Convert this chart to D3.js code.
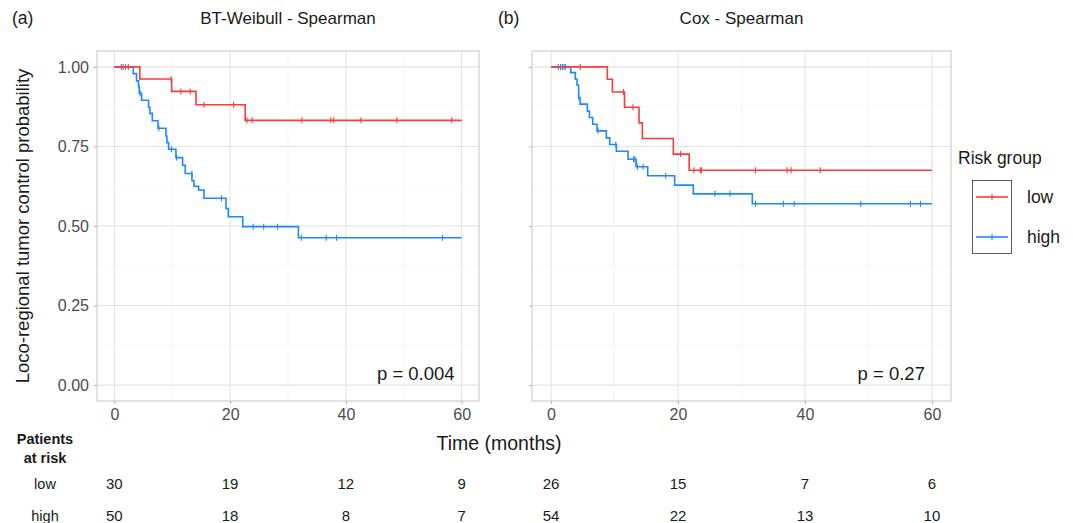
<!DOCTYPE html>
<html>
<head>
<meta charset="utf-8">
<script src="https://cdn.jsdelivr.net/npm/d3@7"></script>
<style>
  body { margin: 0; background: #fff; }
  svg { display: block; font-family: "Liberation Sans", Arial, sans-serif; }
</style>
</head>
<body>
<svg id="chart" width="1073" height="523"></svg>
<script>
// ---------------- DATA ----------------
const panelLabels = ["(a)", "(b)"];
const panelTitles = ["BT-Weibull - Spearman", "Cox - Spearman"];
const pValues = ["p = 0.004", "p = 0.27"];
const groups = ["low", "high"];
const xTicks = [0, 20, 40, 60];
const yTicks = [0, 0.25, 0.5, 0.75, 1];
const yTickLabels = ["0.00", "0.25", "0.50", "0.75", "1.00"];
const riskTimes = [0, 20, 40, 60];

// Panel (a): BT-Weibull - Spearman
const aLowTimes = [4.4, 9.9, 14.1, 22.6];
const aLowSurv = [0.962, 0.923, 0.881, 0.832];
const aLowCensor = [1.5, 2.4, 9.8, 11.5, 13.1, 15.5, 20.6, 22.9, 23.8, 32.4, 37.4, 37.9, 42.6, 48.8, 58.3];
const aHighTimes = [3.26, 3.83, 4.18, 4.30, 4.70, 5.91, 6.14, 6.55, 7.53, 8.91, 9.08, 9.37, 10.64, 11.79, 12.25, 13.41, 13.75, 14.56, 15.48, 19.29, 19.69, 22.18, 31.8];
const aHighSurv = [0.979, 0.956, 0.938, 0.917, 0.895, 0.873, 0.854, 0.831, 0.807, 0.783, 0.762, 0.741, 0.715, 0.691, 0.665, 0.642, 0.625, 0.613, 0.587, 0.555, 0.529, 0.498, 0.463];
const aHighCensor = [1.2, 1.9, 4.45, 7.7, 9.85, 10.75, 13.4, 18.5, 24.0, 25.8, 28.2, 32.3, 36.6, 38.4, 56.7];
const aRiskLow = [30, 19, 12, 9];
const aRiskHigh = [50, 18, 8, 7];

// Panel (b): Cox - Spearman
const bLowTimes = [8.87, 9.66, 11.57, 13.86, 14.38, 19.26, 21.76];
const bLowSurv = [0.961, 0.921, 0.873, 0.824, 0.775, 0.726, 0.675];
const bLowCensor = [4.6, 11.4, 12.9, 20.4, 22.5, 23.5, 23.7, 32.2, 37.2, 37.8, 42.4];
const bHighTimes = [3.10, 3.83, 4.09, 4.35, 4.57, 5.72, 6.04, 6.56, 7.24, 8.71, 9.24, 10.29, 12.13, 13.39, 15.22, 19.47, 22.41, 31.7];
const bHighSurv = [0.982, 0.961, 0.943, 0.903, 0.883, 0.861, 0.841, 0.820, 0.799, 0.777, 0.756, 0.735, 0.710, 0.686, 0.658, 0.6285, 0.601, 0.570];
const bHighCensor = [1.15, 1.5, 1.8, 2.05, 2.3, 4.4, 7.4, 10.2, 13.0, 13.2, 13.6, 14.5, 18.05, 25.8, 28.2, 32.2, 36.6, 38.3, 48.8, 56.6, 58.2];
const bRiskLow = [26, 15, 7, 6];
const bRiskHigh = [54, 22, 13, 10];

const colors = { low: "#FF3A3A", high: "#1E88FF" };

// ---------------- LAYOUT ----------------
const svg = d3.select("#chart");
const plotTop = 51, plotBottom = 401;
const panels = [
  { x0: 97, x1: 479, label: panelLabels[0], title: panelTitles[0], p: pValues[0],
    curves: { low: [aLowTimes, aLowSurv, aLowCensor], high: [aHighTimes, aHighSurv, aHighCensor] },
    risk: { low: aRiskLow, high: aRiskHigh }, yLabels: true, labelX: 12 },
  { x0: 532, x1: 951, label: panelLabels[1], title: panelTitles[1], p: pValues[1],
    curves: { low: [bLowTimes, bLowSurv, bLowCensor], high: [bHighTimes, bHighSurv, bHighCensor] },
    risk: { low: bRiskLow, high: bRiskHigh }, yLabels: false, labelX: 498 }
];

const y = d3.scaleLinear().domain([-0.05, 1.05]).range([plotBottom, plotTop]);
const textCol = "#1a1a1a";
const tickCol = "#4d4d4d";

function survAt(times, surv, t) {
  let s = 1;
  for (let i = 0; i < times.length; i++) if (times[i] <= t) s = surv[i];
  return s;
}

panels.forEach(P => {
  const x = d3.scaleLinear().domain([-3, 63]).range([P.x0, P.x1]);
  const g = svg.append("g");

  // grid minor
  [10, 30, 50].forEach(v => g.append("line").attr("x1", x(v)).attr("x2", x(v))
    .attr("y1", plotTop).attr("y2", plotBottom).attr("stroke", "#f2f2f2").attr("stroke-width", 0.6));
  [0.125, 0.375, 0.625, 0.875].forEach(v => g.append("line").attr("x1", P.x0).attr("x2", P.x1)
    .attr("y1", y(v)).attr("y2", y(v)).attr("stroke", "#f2f2f2").attr("stroke-width", 0.6));
  // grid major
  xTicks.forEach(v => g.append("line").attr("x1", x(v)).attr("x2", x(v))
    .attr("y1", plotTop).attr("y2", plotBottom).attr("stroke", "#e4e4e4").attr("stroke-width", 1.1));
  yTicks.forEach(v => g.append("line").attr("x1", P.x0).attr("x2", P.x1)
    .attr("y1", y(v)).attr("y2", y(v)).attr("stroke", "#e4e4e4").attr("stroke-width", 1.1));

  // axes
  const xAxis = d3.axisBottom(x).tickValues(xTicks).tickSize(3).tickPadding(5).tickFormat(d3.format("d"));
  const gx = svg.append("g").attr("transform", `translate(0,${plotBottom})`).call(xAxis);
  gx.select(".domain").remove();
  gx.selectAll("line").attr("stroke", "#b3b3b3");
  gx.selectAll("text").attr("font-size", 16).attr("fill", tickCol).attr("font-family", "Liberation Sans, Arial, sans-serif");

  const yAxis = d3.axisLeft(y).tickValues(yTicks).tickSize(3).tickPadding(5)
    .tickFormat((d, i) => P.yLabels ? yTickLabels[i] : "");
  const gy = svg.append("g").attr("transform", `translate(${P.x0},0)`).call(yAxis);
  gy.select(".domain").remove();
  gy.selectAll("line").attr("stroke", "#b3b3b3");
  gy.selectAll("text").attr("font-size", 16).attr("fill", tickCol).attr("font-family", "Liberation Sans, Arial, sans-serif");

  // curves
  groups.slice().reverse().forEach(grp => {
    const [times, surv, cens] = P.curves[grp];
    const pts = [[0, 1]];
    times.forEach((t, i) => pts.push([t, surv[i]]));
    pts.push([60, surv[surv.length - 1]]);
    const line = d3.line().x(d => x(d[0])).y(d => y(d[1])).curve(d3.curveStepAfter);
    g.append("path").attr("d", line(pts)).attr("fill", "none")
      .attr("stroke", colors[grp]).attr("stroke-width", 1.6);
    cens.forEach(t => {
      const s = survAt(times, surv, t);
      g.append("line").attr("x1", x(t)).attr("x2", x(t))
        .attr("y1", y(s) - 3).attr("y2", y(s) + 3)
        .attr("stroke", colors[grp]).attr("stroke-width", 1.1);
    });
  });

  // border
  g.append("rect").attr("x", P.x0).attr("y", plotTop).attr("width", P.x1 - P.x0).attr("height", plotBottom - plotTop)
    .attr("fill", "none").attr("stroke", "#cfcfcf").attr("stroke-width", 1.2);

  // p value
  svg.append("text").attr("x", x(60) - 7).attr("y", 380).attr("text-anchor", "end")
    .attr("font-size", 18.5).attr("fill", textCol).text(P.p);

  // titles
  svg.append("text").attr("x", (P.x0 + P.x1) / 2).attr("y", 24).attr("text-anchor", "middle")
    .attr("font-size", 17).attr("fill", textCol).text(P.title);
  svg.append("text").attr("x", P.labelX).attr("y", 24)
    .attr("font-size", 17.5).attr("fill", textCol).text(P.label);

  // risk table numbers
  groups.forEach((grp, gi) => {
    P.risk[grp].forEach((n, i) => {
      svg.append("text").attr("x", x(riskTimes[i])).attr("y", gi === 0 ? 489 : 521)
        .attr("text-anchor", "middle").attr("font-size", 15).attr("fill", textCol).text(n);
    });
  });
});

// y axis label
svg.append("text").attr("transform", `translate(29,${(plotTop + plotBottom) / 2}) rotate(-90)`)
  .attr("text-anchor", "middle").attr("font-size", 18.5).attr("fill", textCol)
  .text("Loco-regional tumor control probability");

// x axis label
svg.append("text").attr("x", 499).attr("y", 450).attr("text-anchor", "middle")
  .attr("font-size", 19.5).attr("fill", textCol).text("Time (months)");

// risk table row labels
svg.append("text").attr("x", 45).attr("y", 444).attr("text-anchor", "middle")
  .attr("font-size", 14.5).attr("font-weight", "bold").attr("fill", textCol).text("Patients");
svg.append("text").attr("x", 45).attr("y", 463).attr("text-anchor", "middle")
  .attr("font-size", 14.5).attr("font-weight", "bold").attr("fill", textCol).text("at risk");
groups.forEach((grp, gi) => {
  svg.append("text").attr("x", 45).attr("y", gi === 0 ? 489 : 521).attr("text-anchor", "middle")
    .attr("font-size", 14.5).attr("fill", textCol).text(grp);
});

// legend
const lg = svg.append("g");
lg.append("text").attr("x", 958).attr("y", 164).attr("font-size", 17.5).attr("fill", textCol).text("Risk group");
lg.append("rect").attr("x", 972.5).attr("y", 180.5).attr("width", 39).attr("height", 73)
  .attr("fill", "none").attr("stroke", "#333").attr("stroke-width", 0.8);
groups.forEach((grp, gi) => {
  const ky = gi === 0 ? 197 : 237;
  lg.append("line").attr("x1", 976).attr("x2", 1008).attr("y1", ky).attr("y2", ky)
    .attr("stroke", colors[grp]).attr("stroke-width", 1.6);
  lg.append("line").attr("x1", 992).attr("x2", 992).attr("y1", ky - 3).attr("y2", ky + 3)
    .attr("stroke", colors[grp]).attr("stroke-width", 1.1);
  lg.append("text").attr("x", 1027).attr("y", ky + 6).attr("font-size", 17.5).attr("fill", textCol).text(grp);
});
</script>
</body>
</html>
